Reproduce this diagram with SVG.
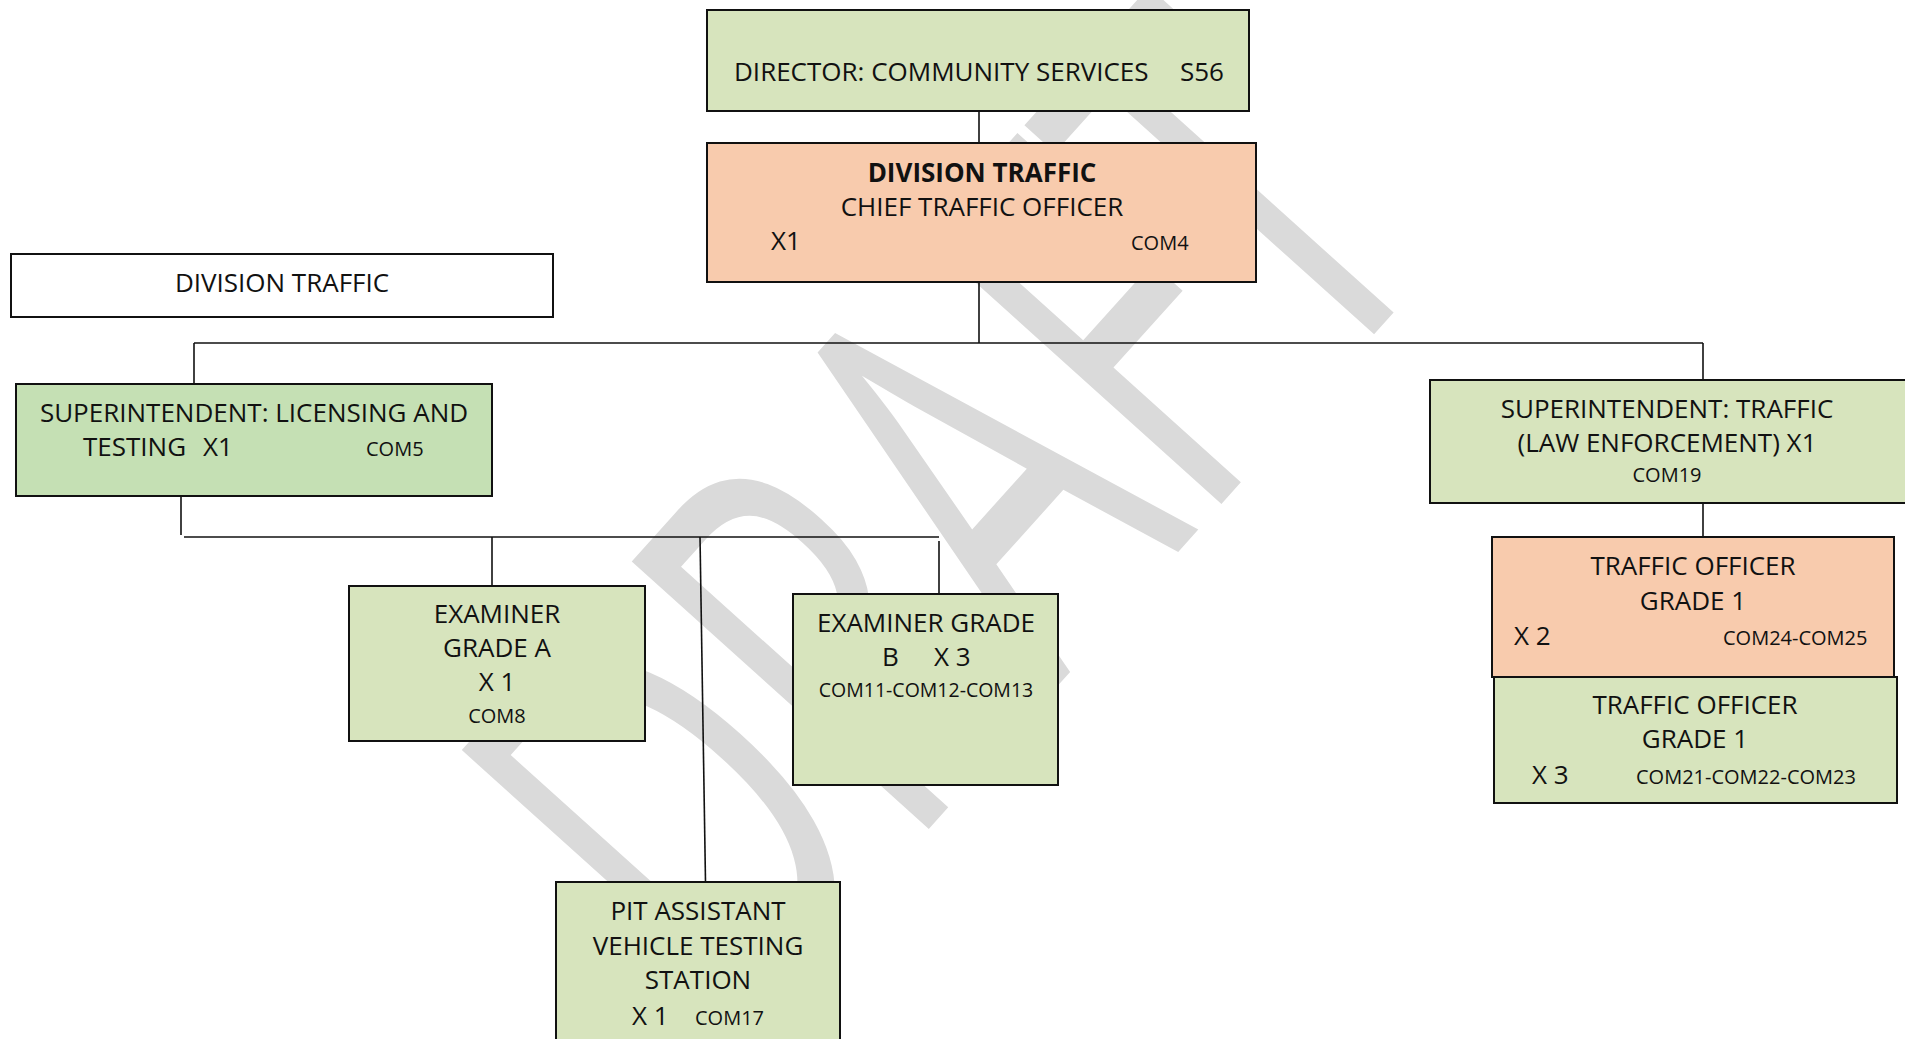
<svg xmlns="http://www.w3.org/2000/svg" width="1905" height="1039" viewBox="0 0 1905 1039">
<style>
.box{stroke:#111;stroke-width:2}
.g{fill:#d7e4bd}
.g2{fill:#c5e0b4}
.p{fill:#f8cbad}
.w{fill:#ffffff}
text{font-family:"Open Sans","Liberation Sans",sans-serif;font-size:26px;fill:#111}
.s{font-size:20px}
.s2{font-size:19.5px}
.c{text-anchor:middle}
.b{font-weight:bold}
.ln{stroke:#111;stroke-width:1.6;fill:none}
.wm{font-family:"Open Sans","Liberation Sans",sans-serif;font-size:560px;fill:#dadada}
</style>
<rect width="1905" height="1039" fill="#ffffff"/>
<g id="watermark">
<text class="wm" transform="translate(736,1043) rotate(-48) scale(0.625,1)">DRAFT</text>
</g>
<g id="connectors">
<line class="ln" x1="979" y1="111" x2="979" y2="143"/>
<line class="ln" x1="979" y1="282" x2="979" y2="343"/>
<line class="ln" x1="194" y1="343" x2="1703" y2="343"/>
<line class="ln" x1="194" y1="343" x2="194" y2="384"/>
<line class="ln" x1="1703" y1="343" x2="1703" y2="380"/>
<line class="ln" x1="1703" y1="503" x2="1703" y2="537"/>
<line class="ln" x1="181" y1="496" x2="181" y2="535"/>
<line class="ln" x1="184" y1="537" x2="939" y2="537"/>
<line class="ln" x1="492" y1="537" x2="492" y2="586"/>
<line class="ln" x1="700" y1="537" x2="705.5" y2="882"/>
<line class="ln" x1="939" y1="541" x2="939" y2="601"/>
</g>
<g id="director">
<rect class="box g" x="707" y="10" width="542" height="101"/>
<text x="734" y="81">DIRECTOR: COMMUNITY SERVICES</text>
<text x="1180" y="81">S56</text>
</g>
<g id="chief">
<rect class="box p" x="707" y="143" width="549" height="139"/>
<text class="c b" x="982" y="182">DIVISION TRAFFIC</text>
<text class="c" x="982" y="216">CHIEF TRAFFIC OFFICER</text>
<text x="771" y="250">X1</text>
<text class="s" x="1131" y="250">COM4</text>
</g>
<g id="division-label">
<rect class="box w" x="11" y="254" width="542" height="63"/>
<text class="c" x="282" y="292">DIVISION TRAFFIC</text>
</g>
<g id="sup-licensing">
<rect class="box g2" x="16" y="384" width="476" height="112"/>
<text class="c" x="254" y="422">SUPERINTENDENT: LICENSING AND</text>
<text x="83" y="456">TESTING</text>
<text x="203" y="456">X1</text>
<text class="s" x="366" y="456">COM5</text>
</g>
<g id="sup-traffic">
<rect class="box g" x="1430" y="380" width="480" height="123"/>
<text class="c" x="1667" y="418">SUPERINTENDENT: TRAFFIC</text>
<text class="c" x="1667" y="452">(LAW ENFORCEMENT) X1</text>
<text class="c s" x="1667" y="482">COM19</text>
</g>
<g id="traffic-officer-a">
<rect class="box p" x="1492" y="537" width="402" height="140"/>
<text class="c" x="1693" y="575">TRAFFIC OFFICER</text>
<text class="c" x="1693" y="610">GRADE 1</text>
<text x="1514" y="645">X 2</text>
<text class="s" x="1723" y="645">COM24-COM25</text>
</g>
<g id="traffic-officer-b">
<rect class="box g" x="1494" y="677" width="403" height="126"/>
<text class="c" x="1695" y="714">TRAFFIC OFFICER</text>
<text class="c" x="1695" y="748">GRADE 1</text>
<text x="1532" y="784">X 3</text>
<text class="s" x="1636" y="784">COM21-COM22-COM23</text>
</g>
<g id="examiner-a">
<rect class="box g" x="349" y="586" width="296" height="155"/>
<text class="c" x="497" y="623">EXAMINER</text>
<text class="c" x="497" y="657">GRADE A</text>
<text class="c" x="497" y="691">X 1</text>
<text class="c s" x="497" y="723">COM8</text>
</g>
<g id="examiner-b">
<rect class="box g" x="793" y="594" width="265" height="191"/>
<text class="c" x="926" y="632">EXAMINER GRADE</text>
<text x="882" y="666">B</text>
<text x="934" y="666">X 3</text>
<text class="c s2" x="926" y="697">COM11-COM12-COM13</text>
</g>
<g id="pit-assistant">
<rect class="box g" x="556" y="882" width="284" height="170"/>
<text class="c" x="698" y="920">PIT ASSISTANT</text>
<text class="c" x="698" y="955">VEHICLE TESTING</text>
<text class="c" x="698" y="989">STATION</text>
<text x="632" y="1025">X 1</text>
<text class="s" x="695" y="1025">COM17</text>
</g>
</svg>
